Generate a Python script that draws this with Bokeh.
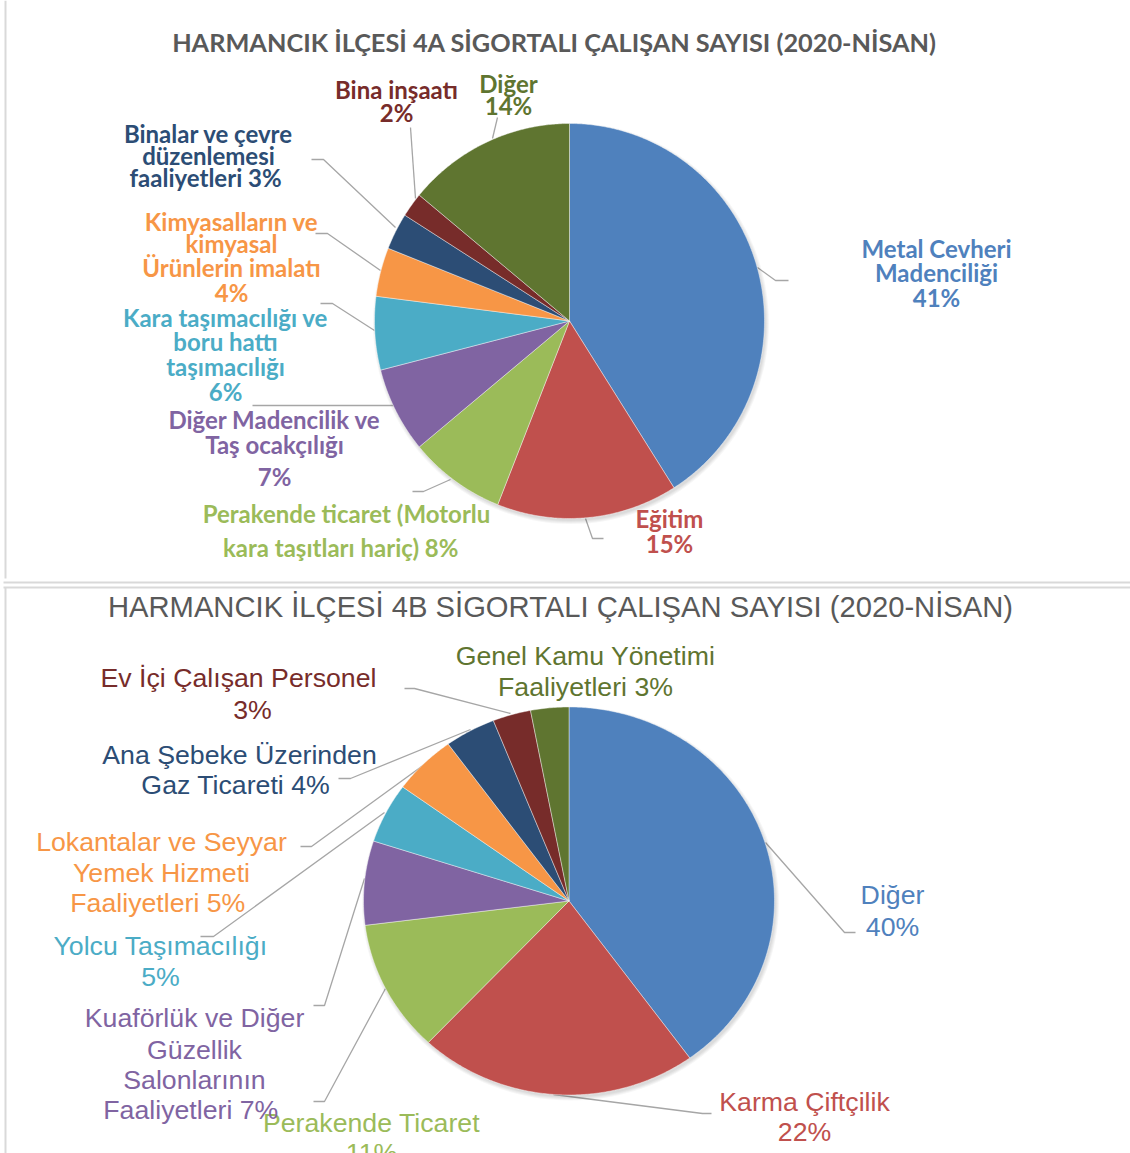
import numpy as np
from bokeh.plotting import figure
from bokeh.models import Range1d, ColumnDataSource
from bokeh.core.properties import value
from bokeh.embed import file_html
from bokeh.resources import INLINE

# ---------------- data ----------------
a_title = "HARMANCIK İLÇESİ 4A SİGORTALI ÇALIŞAN SAYISI (2020-NİSAN)"
a_categories = [
    "Metal Cevheri Madenciliği", "Eğitim",
    "Perakende ticaret (Motorlu kara taşıtları hariç)",
    "Diğer Madencilik ve Taş ocakçılığı",
    "Kara taşımacılığı ve boru hattı taşımacılığı",
    "Kimyasalların ve kimyasal Ürünlerin imalatı",
    "Binalar ve çevre düzenlemesi faaliyetleri",
    "Bina inşaatı", "Diğer",
]
a_values = [41, 15, 8, 7, 6, 4, 3, 2, 14]
a_label_lines = [
    ["Metal Cevheri", "Madenciliği", "{p}"],
    ["Eğitim", "{p}"],
    ["Perakende ticaret (Motorlu", "kara  taşıtları hariç)  {p}"],
    ["Diğer Madencilik ve", "Taş ocakçılığı", "{p}"],
    ["Kara taşımacılığı ve", "boru hattı", "taşımacılığı", "{p}"],
    ["Kimyasalların ve", "kimyasal", "Ürünlerin imalatı", "{p}"],
    ["Binalar ve çevre", "düzenlemesi", "faaliyetleri  {p}"],
    ["Bina inşaatı", "{p}"],
    ["Diğer", "{p}"],
]

b_title = "HARMANCIK İLÇESİ 4B SİGORTALI ÇALIŞAN SAYISI (2020-NİSAN)"
b_categories = [
    "Diğer", "Karma Çiftçilik", "Perakende Ticaret",
    "Kuaförlük ve Diğer Güzellik Salonlarının Faaliyetleri",
    "Yolcu Taşımacılığı",
    "Lokantalar ve Seyyar Yemek Hizmeti Faaliyetleri",
    "Ana Şebeke Üzerinden Gaz Ticareti",
    "Ev İçi Çalışan Personel",
    "Genel Kamu Yönetimi Faaliyetleri",
]
b_values = [40, 22, 11, 7, 5, 5, 4, 3, 3]
b_label_lines = [
    ["Diğer", "{p}"],
    ["Karma Çiftçilik", "{p}"],
    ["Perakende Ticaret", "{p}"],
    ["Kuaförlük ve Diğer", "Güzellik", "Salonlarının", "Faaliyetleri  {p}"],
    ["Yolcu Taşımacılığı", "{p}"],
    ["Lokantalar ve Seyyar", "Yemek Hizmeti", "Faaliyetleri  {p}"],
    ["Ana Şebeke Üzerinden", "Gaz Ticareti  {p}"],
    ["Ev İçi Çalışan Personel", "{p}"],
    ["Genel Kamu Yönetimi", "Faaliyetleri {p}"],
]

slice_colors = ["#4F81BD", "#C0504D", "#9BBB59", "#8064A2", "#4BACC6",
                "#F79646", "#2C4D75", "#772C2A", "#5F7530"]

# ---------------- layout (pixel coordinates of the picture) ----------------
W, H = 1130, 1153
A_GEOM = dict(cx=569, cy=320.5, rx=195, ry=197.5)
B_GEOM = dict(cx=568.5, cy=900.5, rx=205.5, ry=194)

a_label_pos = [
    ([936], [248, 272, 297]),
    ([669], [518, 543]),
    ([346], [513, 547]),
    ([274], [419, 444, 476]),
    ([225], [317, 341, 366, 391]),
    ([231], [221, 243, 267, 292]),
    ([208], [133, 155, 177]),
    ([396], [89, 112]),
    ([508], [83, 105]),
]
a_leaders = [
    [(757, 267), (775, 280), (788, 280)],
    [(585, 518), (592, 538), (603, 538)],
    [(450, 479), (423, 491), (412, 491)],
    [(393, 405), (252, 405)],
    [(374, 330), (332, 303), (320, 303)],
    [(380, 270), (327, 233), (315, 233)],
    [(395, 227), (323, 159), (311, 159)],
    [(415, 198), (410, 127)],
    [(492, 138), (497, 117)],
]

b_label_pos = [
    ([892], [894, 926]),
    ([804], [1101, 1131]),
    ([371], [1122, 1152]),
    ([194], [1017, 1049, 1079, 1109]),
    ([160], [945, 976]),
    ([161], [841, 872, 902]),
    ([239], [754, 784]),
    ([238, 252], [677, 709]),
    ([585], [655, 686]),
]
b_leaders = [
    [(765, 842), (844, 932), (855, 932)],
    [(553, 1094), (702, 1113), (711, 1113)],
    [(385, 988), (324, 1101), (313, 1101)],
    [(364, 878), (324, 1005), (313, 1005)],
    [(384, 812), (213, 936), (200, 936)],
    [(428, 761), (311, 846), (300, 846)],
    [(470, 729), (350, 778), (338, 778)],
    [(510, 713), (414, 688), (404, 688)],
    None,
]

p = figure(width=W, height=H, x_range=Range1d(0, W), y_range=Range1d(H, 0),
           output_backend="svg", toolbar_location=None, min_border=0)
p.axis.visible = False
p.grid.visible = False
p.outline_line_color = None
p.background_fill_color = "white"
p.border_fill_color = "white"

# panel borders
p.multi_line(xs=[[5, 5], [3, 1130], [3, 1130], [5, 5]],
             ys=[[0, 578], [582, 582], [587, 587], [587, 1153]],
             line_color="#D9D9D9", line_width=2)


def draw_pie(values, geom, colors):
    vals = np.asarray(values, dtype=float)
    frac = vals / vals.sum()
    edges = np.concatenate([[0.0], np.cumsum(frac)]) * 2 * np.pi
    cx, cy, rx, ry = geom["cx"], geom["cy"], geom["rx"], geom["ry"]
    # soft shadow
    for k in range(4):
        p.ellipse(x=cx + 1.5, y=cy + 2.5, width=2 * (rx + k), height=2 * (ry + k),
                  fill_color="#000000", fill_alpha=0.035, line_color=None)
    xs, ys = [], []
    for t0, t1 in zip(edges[:-1], edges[1:]):
        n = max(int((t1 - t0) / (2 * np.pi) * 720), 4)
        th = np.linspace(t0, t1, n)
        xs.append(np.concatenate([[cx], cx + rx * np.sin(th)]).tolist())
        ys.append(np.concatenate([[cy], cy - ry * np.cos(th)]).tolist())
    src = ColumnDataSource(dict(xs=xs, ys=ys, color=colors[:len(vals)]))
    p.patches("xs", "ys", source=src, fill_color="color", line_color="white",
              line_width=0.6, line_alpha=0.7)


def draw_labels(values, lines, positions, colors, font, size, style):
    tx, ty, tt, tc = [], [], [], []
    for v, ls, (xl, yl), c in zip(values, lines, positions, colors):
        for i, (s, y) in enumerate(zip(ls, yl)):
            tx.append(xl[i] if i < len(xl) else xl[-1])
            ty.append(y)
            tt.append(s.replace("{p}", f"{v}%"))
            tc.append(c)
    src = ColumnDataSource(dict(x=tx, y=ty, text=tt, color=tc))
    p.text("x", "y", text="text", source=src, text_color="color",
           text_font=value(font), text_font_size=size, text_font_style=style,
           text_align="center", text_baseline="middle")


def draw_leaders(leaders):
    xs = [[pt[0] for pt in l] for l in leaders if l]
    ys = [[pt[1] for pt in l] for l in leaders if l]
    p.multi_line(xs=xs, ys=ys, line_color="#A6A6A6", line_width=1.3)


# ---- chart 4A ----
draw_leaders(a_leaders)
draw_pie(a_values, A_GEOM, slice_colors)
draw_labels(a_values, a_label_lines, a_label_pos, slice_colors, "Lato", "24px", "bold")
p.text(x=[554], y=[41], text=[a_title], text_color="#595959", text_font=value("Lato"),
       text_font_size="25.3px", text_font_style="bold", text_align="center",
       text_baseline="middle")

# ---- chart 4B ----
draw_leaders(b_leaders)
draw_pie(b_values, B_GEOM, slice_colors)
draw_labels(b_values, b_label_lines, b_label_pos, slice_colors, "Liberation Sans", "26.7px", "normal")
p.text(x=[560], y=[606], text=[b_title], text_color="#595959",
       text_font=value("Liberation Sans"), text_font_size="29.2px", text_align="center",
       text_baseline="middle")

open("out.html", "w").write(file_html(p, INLINE))
